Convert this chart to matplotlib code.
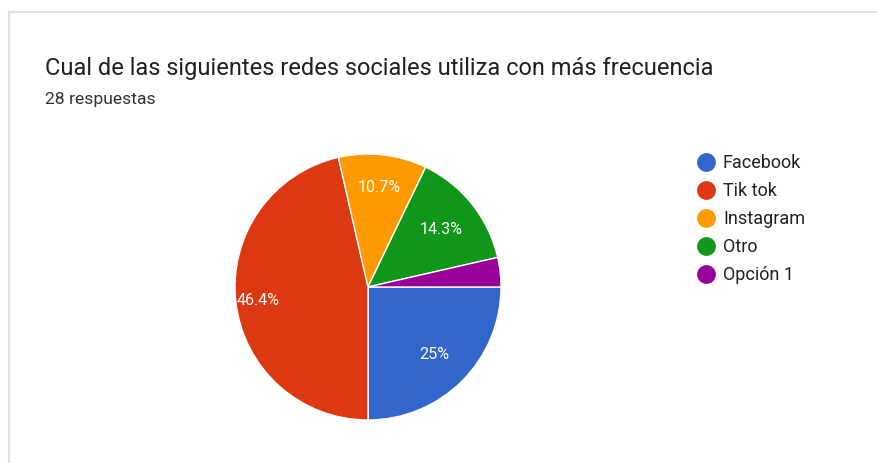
import matplotlib
matplotlib.use('Agg')
import numpy as np
import matplotlib.pyplot as plt
from matplotlib.lines import Line2D

# ─── DATA ──────────────────────────────────────────────────────────────────────
TITLE     = "Cual de las siguientes redes sociales utiliza con más frecuencia"
SUBTITLE  = "28 respuestas"
labels    = ["Facebook", "Tik tok", "Instagram", "Otro", "Opción 1"]
counts    = [7, 13, 3, 4, 1]
colours   = ["#3366cc", "#dc3912", "#ff9900", "#109618", "#990099"]
label_r   = [0.71, 0.83, 0.76, 0.70, 0.75]   # radial position of % labels

plt.rcParams['font.family'] = ['Roboto', 'DejaVu Sans']

W, H = 878, 464
fig = plt.figure(figsize=(W / 100, H / 100), dpi=100)
fig.patch.set_facecolor('white')

# card border (top + left)
fig.add_artist(Line2D([8.5 / W, 1], [1 - 12.5 / H] * 2, color='#e0e0e0', lw=1.5))
fig.add_artist(Line2D([8.5 / W] * 2, [0, 1 - 12.5 / H], color='#e0e0e0', lw=1.5))

fig.text(45 / W, 1 - 68 / H, TITLE, fontsize=17, color='#202124', va='center')
fig.text(45 / W, 1 - 100 / H, SUBTITLE, fontsize=12.6, color='#333333', va='center')

# ─── PIE ───────────────────────────────────────────────────────────────────────
cx, cy, r = 368, 288, 133
ax = fig.add_axes([(cx - r) / W, (H - cy - r) / H, 2 * r / W, 2 * r / H])


def pct_fmt(p):
    if p < 5:
        return ''
    s = f"{p:.1f}"
    return (s[:-2] if s.endswith('.0') else s) + '%'


wedges, _, autotexts = ax.pie(
    counts, colors=colours, startangle=0, counterclock=False, radius=1,
    autopct=pct_fmt, pctdistance=0.75,
    wedgeprops=dict(edgecolor='white', linewidth=1),
    textprops=dict(color='white', fontsize=11.6)
)

for w, t, rr in zip(wedges, autotexts, label_r):
    ang = np.deg2rad((w.theta1 + w.theta2) / 2)
    t.set_position((rr * np.cos(ang), rr * np.sin(ang)))

ax.set_xlim(-1, 1)
ax.set_ylim(-1, 1)
ax.set_aspect('equal')
ax.axis('off')

# ─── LEGEND ────────────────────────────────────────────────────────────────────
for i, (lab, c) in enumerate(zip(labels, colours)):
    y = 1 - (163 + 28 * i) / H
    fig.add_artist(Line2D([706 / W], [y], marker='o', color='none',
                          markerfacecolor=c, markeredgecolor=c, markersize=12.5))
    fig.text(723 / W, y, lab, fontsize=13, color='#222222', va='center')

fig.savefig('out.png', dpi=100, facecolor='white')
